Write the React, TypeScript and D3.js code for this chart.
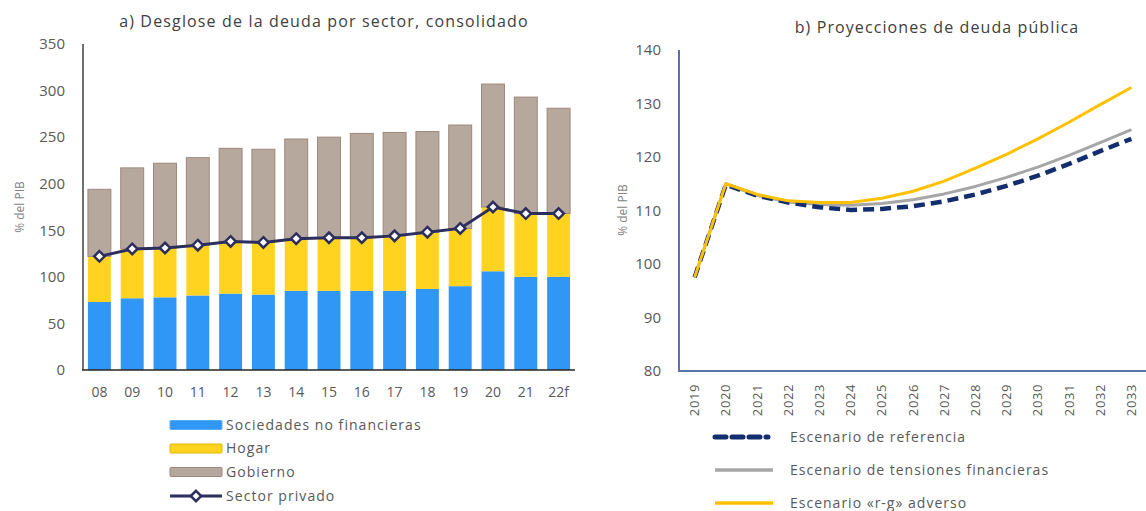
import React from "react";
import * as d3 from "d3";

// ---- Panel a) data ----
const yearsA = ["08", "09", "10", "11", "12", "13", "14", "15", "16", "17", "18", "19", "20", "21", "22f"];
const sociedades = [73, 77, 78, 80, 82, 81, 85, 85, 85, 85, 87, 90, 106, 100, 100];
const sectorPrivado = [122, 130, 131, 134, 138, 137, 141, 142, 142, 144, 148, 152, 175, 168, 168];
const totalDeuda = [194, 217, 222, 228, 238, 237, 248, 250, 254, 255, 256, 263, 307, 293, 281];
const hogar = sectorPrivado.map((v, i) => v - sociedades[i]);
const gobierno = totalDeuda.map((v, i) => v - sectorPrivado[i]);
const ticksA = [0, 50, 100, 150, 200, 250, 300, 350];

// ---- Panel b) data ----
const yearsB = ["2019", "2020", "2021", "2022", "2023", "2024", "2025", "2026", "2027", "2028", "2029", "2030", "2031", "2032", "2033"];
const referencia = [97.5, 114.8, 112.8, 111.5, 110.6, 110.1, 110.3, 110.8, 111.7, 113.0, 114.6, 116.5, 118.7, 121.1, 123.4];
const tensiones = [97.5, 115.0, 112.8, 111.6, 111.1, 111.0, 111.3, 112.0, 113.1, 114.5, 116.2, 118.1, 120.3, 122.7, 125.1];
const adverso = [97.5, 115.0, 113.0, 111.8, 111.5, 111.5, 112.3, 113.6, 115.5, 117.9, 120.5, 123.4, 126.5, 129.8, 133.0];
const ticksB = [80, 90, 100, 110, 120, 130, 140];

const FONT = "'Open Sans', sans-serif";
const TXT = "#595959";

const C_BLUE = "#3097F7";
const C_YEL = "#FFD320";
const C_GRAY = "#B7A89E";
const C_GRAY_S = "#9E887B";
const C_NAVY = "#2C2F5E";

function PanelA() {
  const x = d3.scaleBand().domain(yearsA).range([83, 575]).paddingInner(0.3).paddingOuter(0.15);
  const y = d3.scaleLinear().domain([0, 350]).range([370, 44]);
  const stackData = yearsA.map((k, i) => ({ k, s: sociedades[i], h: hogar[i], g: gobierno[i] }));
  const stack = d3.stack<any>().keys(["s", "h", "g"])(stackData);
  const colors = [C_BLUE, C_YEL, C_GRAY];
  const line = d3
    .line<number>()
    .x((_, i) => (x(yearsA[i]) as number) + x.bandwidth() / 2)
    .y((v) => y(v));
  const diamond = d3.symbol().type(d3.symbolDiamond2).size(70)();
  return (
    <g>
      <text x={324} y={27} textAnchor="middle" fontSize={16} letterSpacing={1.15} fill="#404040">
        a) Desglose de la deuda por sector, consolidado
      </text>
      <text transform={`translate(24,${207}) rotate(-90)`} textAnchor="middle" fontSize={12} fill="#7f7f7f">
        % del PIB
      </text>
      {stack.map((layer, li) =>
        layer.map((d, i) => (
          <rect
            key={`${li}-${i}`}
            x={x(yearsA[i])}
            y={y(d[1])}
            width={x.bandwidth()}
            height={y(d[0]) - y(d[1])}
            fill={colors[li]}
            stroke={li === 2 ? C_GRAY_S : "none"}
            strokeWidth={li === 2 ? 1 : 0}
          />
        ))
      )}
      {ticksA.map((t) => (
        <text key={t} x={65} y={y(t)} dy="0.35em" textAnchor="end" fontSize={15} fill={TXT}>
          {t}
        </text>
      ))}
      <line x1={83} x2={83} y1={44} y2={370} stroke="#404040" strokeWidth={1.5} />
      <line x1={82} x2={575} y1={370} y2={370} stroke="#262626" strokeWidth={1.5} />
      {yearsA.map((k) => (
        <text key={k} x={(x(k) as number) + x.bandwidth() / 2} y={397} textAnchor="middle" fontSize={14} fill={TXT}>
          {k}
        </text>
      ))}
      <path d={line(sectorPrivado) || ""} fill="none" stroke={C_NAVY} strokeWidth={3} />
      {sectorPrivado.map((v, i) => (
        <path
          key={i}
          d={diamond || ""}
          transform={`translate(${(x(yearsA[i]) as number) + x.bandwidth() / 2},${y(v)})`}
          fill="#fff"
          stroke={C_NAVY}
          strokeWidth={2.5}
        />
      ))}
      {/* legend */}
      {[
        { label: "Sociedades no financieras", c: C_BLUE, s: "#5aaef5" },
        { label: "Hogar", c: C_YEL, s: "#e0b800" },
        { label: "Gobierno", c: C_GRAY, s: C_GRAY_S },
      ].map((d, i) => (
        <g key={d.label} transform={`translate(0,${425 + i * 23.5})`}>
          <rect x={170} y={-4.5} width={52} height={9} fill={d.c} stroke={d.s} strokeWidth={1} rx={1} />
          <text x={226} y={0} dy="0.35em" fontSize={14} letterSpacing={1.05} fill={TXT}>
            {d.label}
          </text>
        </g>
      ))}
      <g transform={`translate(0,${496})`}>
        <line x1={170} x2={222} y1={0} y2={0} stroke={C_NAVY} strokeWidth={3} />
        <path d={diamond || ""} transform="translate(196,0)" fill="#fff" stroke={C_NAVY} strokeWidth={2.5} />
        <text x={226} y={0} dy="0.35em" fontSize={14} letterSpacing={1.05} fill={TXT}>
          Sector privado
        </text>
      </g>
    </g>
  );
}

function PanelB() {
  const x = d3.scaleBand().domain(yearsB).range([679, 679 + 15 * 31.2]);
  const y = d3.scaleLinear().domain([80, 140]).range([371, 50]);
  const cx = (i: number) => (x(yearsB[i]) as number) + x.bandwidth() / 2;
  const line = d3
    .line<number>()
    .x((_, i) => cx(i))
    .y((v) => y(v));
  const AX = "#5A72A8";
  return (
    <g>
      <text x={937} y={33} textAnchor="middle" fontSize={16} letterSpacing={1.1} fill="#404040">
        b) Proyecciones de deuda pública
      </text>
      <text transform={`translate(627,${210}) rotate(-90)`} textAnchor="middle" fontSize={12} fill="#7f7f7f">
        % del PIB
      </text>
      {ticksB.map((t) => (
        <text key={t} x={661} y={y(t)} dy="0.35em" textAnchor="end" fontSize={15} fill={TXT}>
          {t}
        </text>
      ))}
      {yearsB.map((k, i) => (
        <text
          key={k}
          transform={`translate(${cx(i)},${384}) rotate(-90)`}
          dy="0.35em"
          textAnchor="end"
          fontSize={13}
          letterSpacing={0.6}
          fill={TXT}
        >
          {k}
        </text>
      ))}
      <path d={line(tensiones) || ""} fill="none" stroke="#A6A6A6" strokeWidth={3} strokeLinejoin="round" />
      <path d={line(referencia) || ""} fill="none" stroke="#132E6E" strokeWidth={4.5} strokeDasharray="11 6" />
      <path d={line(adverso) || ""} fill="none" stroke="#FFC000" strokeWidth={3} strokeLinejoin="round" />
      <line x1={679} x2={679} y1={50} y2={371} stroke={AX} strokeWidth={2} />
      <line x1={678} x2={1146} y1={371} y2={371} stroke={AX} strokeWidth={2} />
      {/* legend */}
      <g transform="translate(0,437)">
        <line x1={715} x2={768} y1={0} y2={0} stroke="#132E6E" strokeWidth={5} strokeDasharray="11 6" strokeLinecap="round" />
        <text x={790} y={0} dy="0.35em" fontSize={14} letterSpacing={1} fill={TXT}>
          Escenario de referencia
        </text>
      </g>
      <g transform="translate(0,470)">
        <line x1={715} x2={773} y1={0} y2={0} stroke="#A6A6A6" strokeWidth={3.5} />
        <text x={790} y={0} dy="0.35em" fontSize={14} letterSpacing={1} fill={TXT}>
          Escenario de tensiones financieras
        </text>
      </g>
      <g transform="translate(0,503)">
        <line x1={715} x2={773} y1={0} y2={0} stroke="#FFC000" strokeWidth={3.5} />
        <text x={790} y={0} dy="0.35em" fontSize={14} letterSpacing={1} fill={TXT}>
          Escenario «r-g» adverso
        </text>
      </g>
    </g>
  );
}

export default function App() {
  return (
    <svg
      width={1146}
      height={511}
      style={{ position: "absolute", left: 0, top: 0, background: "#fff", fontFamily: FONT }}
    >
      <rect width={1146} height={511} fill="#fff" />
      <PanelA />
      <PanelB />
    </svg>
  );
}
